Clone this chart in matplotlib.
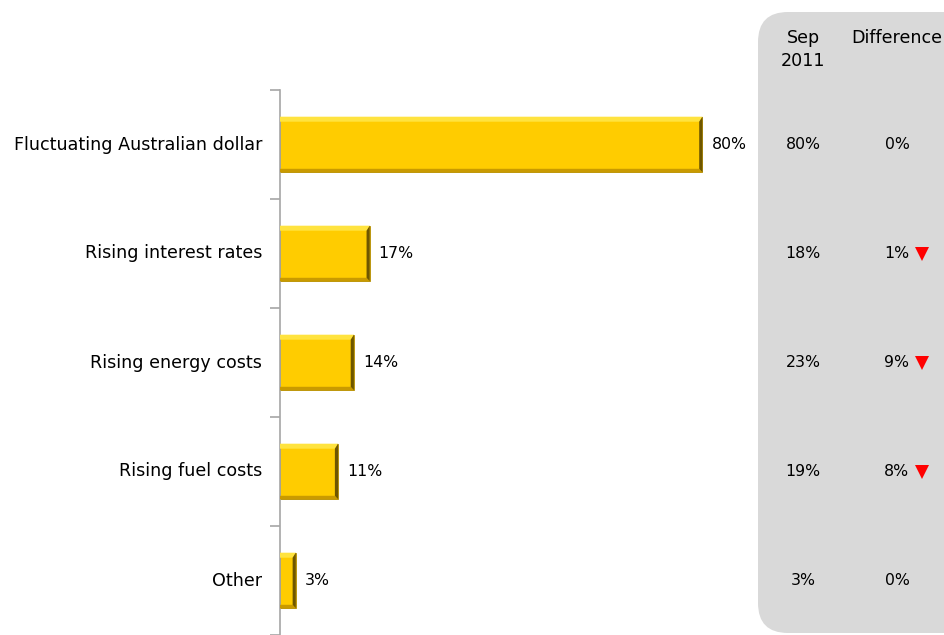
import matplotlib
matplotlib.use("Agg")
import matplotlib.pyplot as plt
from matplotlib.patches import Polygon, FancyBboxPatch
from matplotlib.transforms import blended_transform_factory

# Survey data
categories = ["Fluctuating Australian dollar", "Rising interest rates",
              "Rising energy costs", "Rising fuel costs", "Other"]
current = [80, 17, 14, 11, 3]
sep_2011 = [80, 18, 23, 19, 3]
difference = [0, 1, 9, 8, 0]
falling = [False, True, True, True, False]

W, H, DPI = 944, 635, 100
fig = plt.figure(figsize=(W / DPI, H / DPI), dpi=DPI)
fig.patch.set_facecolor("white")

FONT = "DejaVu Sans"
TXT = "#000000"
FS_VAL = 11.3
FS_LAB = 12.6

# Grey comparison panel (drawn in inch coordinates so corners stay round)
panel = FancyBboxPatch((758 / DPI, 2 / DPI), 3.0, (633 - 12) / DPI,
                       boxstyle="round,pad=0,rounding_size=0.3",
                       transform=fig.dpi_scale_trans, facecolor="#d9d9d9",
                       edgecolor="none", zorder=0)
fig.patches.append(panel)

ax = fig.add_axes([280 / W, 0, 528 / W, 545 / H])
ax.set_zorder(2)
ax.set_xlim(0, 100)
ax.set_ylim(len(categories) - 0.5, -0.5)
ax.patch.set_alpha(0)

ypos = list(range(len(categories)))
bh = 0.51
ax.barh(ypos, current, height=bh, color="#FFCC00", edgecolor="#B08A00",
        linewidth=0.6, zorder=2)

# Bevel shading on each bar
dx = 3.2 / 5.28
dy = 5.0 / 109
for y, v in zip(ypos, current):
    top, bot = y - bh / 2, y + bh / 2
    ddx = min(dx, v / 2)
    ax.add_patch(Polygon([(0, top), (v, top), (v - ddx, top + dy), (0, top + dy)],
                         closed=True, facecolor="#FFE33F", edgecolor="none", zorder=3))
    ax.add_patch(Polygon([(0, bot), (v, bot), (v - ddx, bot - dy * 0.7), (0, bot - dy * 0.7)],
                         closed=True, facecolor="#C99A00", edgecolor="none", zorder=3))
    ax.add_patch(Polygon([(v, top), (v, bot), (v - ddx, bot - dy * 0.7), (v - ddx, top + dy)],
                         closed=True, facecolor="#6E5600", edgecolor="none", zorder=3))
    ax.text(v + 1.7, y, f"{v}%", ha="left", va="center", fontsize=FS_VAL,
            family=FONT, color=TXT, zorder=4)

# Axis styling: only the left spine with outward ticks at category boundaries
for s in ["top", "right", "bottom"]:
    ax.spines[s].set_visible(False)
ax.spines["left"].set_color("#a6a6a6")
ax.spines["left"].set_linewidth(1.2)
ax.set_xticks([])
ax.set_yticks([i - 0.5 for i in range(len(categories) + 1)])
ax.set_yticklabels([])
ax.tick_params(axis="y", length=7, width=1.2, color="#a6a6a6", direction="out")
for y, c in zip(ypos, categories):
    ax.text(-3.4, y, c, ha="right", va="center", fontsize=FS_LAB, family=FONT,
            color=TXT)

# Panel headers
fig.text(803 / W, 1 - 38 / H, "Sep", ha="center", va="center", fontsize=FS_LAB,
         family=FONT, color=TXT, zorder=5)
fig.text(803 / W, 1 - 61 / H, "2011", ha="center", va="center", fontsize=FS_LAB,
         family=FONT, color=TXT, zorder=5)
fig.text(897 / W, 1 - 38 / H, "Difference", ha="center", va="center",
         fontsize=FS_LAB, family=FONT, color=TXT, zorder=5)

# Panel values aligned with bar rows
tr = blended_transform_factory(fig.transFigure, ax.transData)
for y, s, d, f in zip(ypos, sep_2011, difference, falling):
    ax.text(803 / W, y, f"{s}%", transform=tr, ha="center", va="center",
            fontsize=FS_VAL, family=FONT, color=TXT, clip_on=False, zorder=5)
    if f:
        ax.text(909 / W, y, f"{d}%", transform=tr, ha="right", va="center",
                fontsize=FS_VAL, family=FONT, color=TXT, clip_on=False, zorder=5)
        ax.plot([922 / W], [y], transform=tr, marker="v", markersize=10,
                color="#ff0000", markeredgewidth=0, clip_on=False, zorder=5)
    else:
        ax.text(897 / W, y, f"{d}%", transform=tr, ha="center", va="center",
                fontsize=FS_VAL, family=FONT, color=TXT, clip_on=False, zorder=5)

fig.savefig("out.png", dpi=DPI)
